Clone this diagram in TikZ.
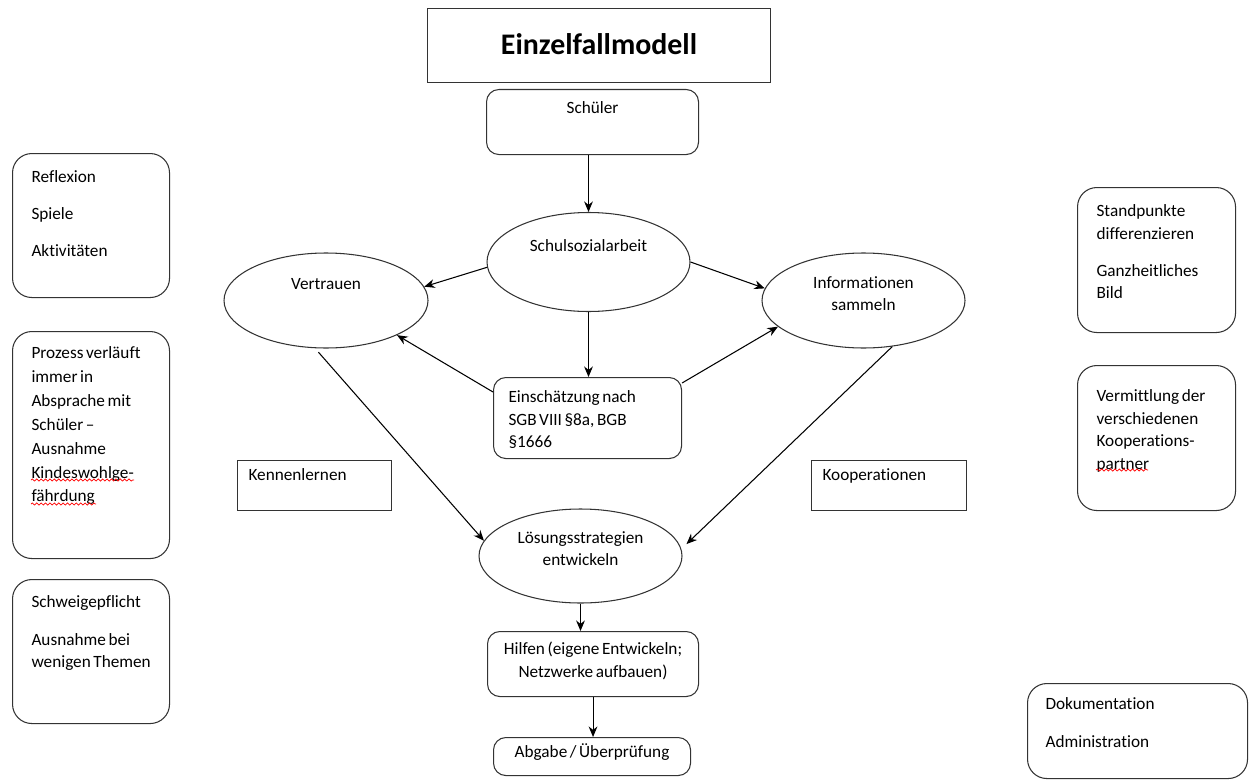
\documentclass[tikz,border=0pt]{standalone}
\usepackage{fontspec}
\setmainfont{Carlito}[Ligatures=NoCommon]
\usepackage{tikz}
\usetikzlibrary{arrows.meta,calc,shapes.geometric,decorations.pathmorphing}
\hyphenpenalty=10000

\begin{document}
\begin{tikzpicture}[>={Stealth[length=6pt,width=5pt]}, line width=0.6pt,
	every node/.style={execute at begin node={\spaceskip=0.15em\relax}},
	flowbox/.style={draw=black!80, rounded corners=7pt, anchor=north west, inner ysep=0pt, font=\fontsize{9.8}{12.8}\selectfont},
	sidebox/.style={flowbox, rounded corners=11pt, align=left, inner xsep=0.38cm},
	plainbox/.style={flowbox, rounded corners=0pt, align=left, inner xsep=0.22cm},
	flowell/.style={draw=black!80, ellipse, inner sep=0pt, align=center, text width=2.6cm, text height=0.1cm, font=\fontsize{9.8}{12.8}\selectfont},
	spellmark/.style={red, line width=0.4pt, decorate, decoration={snake, amplitude=0.6pt, segment length=2.5pt}}]

	\useasboundingbox (0,0) rectangle (24.98,-15.62);

	% middle column
	\node (title) at (8.54,-0.16) [flowbox, rounded corners=0pt, align=center, inner xsep=0pt, text width=6.86cm, text height=0.92cm, text depth=0.56cm, font=\fontsize{17}{20}\selectfont\bfseries] {Einzelfallmodell};
	\node (schueler) at (9.72,-1.78) [flowbox, align=center, inner xsep=0pt, text width=4.24cm, text height=0.48cm, text depth=0.82cm] {Schüler};
	\node (schul) at (11.77,-5.24) [flowell, minimum width=4.06cm, minimum height=1.98cm, text depth=0.54cm] {Schulsozialarbeit};
	\node (vertrauen) at (6.52,-6.01) [flowell, minimum width=4.08cm, minimum height=1.90cm, text depth=0.56cm] {Vertrauen};
	\node (info) at (17.27,-6.01) [flowell, minimum width=4.06cm, minimum height=1.90cm, text depth=0.60cm] {Informationen\\sammeln};
	\node (einsch) at (9.86,-7.54) [flowbox, align=left, inner xsep=0.30cm, text width=3.16cm, text height=0.50cm, text depth=1.12cm] {Einschätzung nach\\SGB VIII §8a, BGB\\§1666};
	\node (kennen) at (4.74,-9.20) [plainbox, text width=2.64cm, text height=0.40cm, text depth=0.60cm] {Kennenlernen};
	\node (koop) at (16.22,-9.20) [plainbox, text width=2.66cm, text height=0.40cm, text depth=0.60cm] {Kooperationen};
	\node (loesung) at (11.61,-11.12) [flowell, minimum width=4.06cm, minimum height=1.88cm, text depth=0.62cm] {Lösungsstrategien\\entwickeln};
	\node (hilfen) at (9.74,-12.62) [flowbox, align=center, inner xsep=0pt, text width=4.22cm, text height=0.46cm, text depth=0.84cm] {Hilfen (eigene Entwickeln;\\Netzwerke aufbauen)};
	\node (abgabe) at (9.86,-14.74) [flowbox, align=center, inner xsep=0pt, text width=3.94cm, text height=0.40cm, text depth=0.36cm] {Abgabe / Überprüfung};

	% side columns
	\node (refl) at (0.24,-3.06) [sidebox, text width=2.38cm, text height=0.58cm, text depth=2.30cm] {Reflexion\\[0.29cm]Spiele\\[0.29cm]Aktivitäten};
	\node (prozess) at (0.24,-6.62) [sidebox, text width=2.38cm, text height=0.54cm, text depth=4.00cm, font=\fontsize{9.8}{13.6}\selectfont] {Prozess~verläuft\\immer in\\Absprache~mit\\Schüler --\\Ausnahme\\Kindeswohlge-\\fährdung};
	\node (schweige) at (0.24,-11.58) [sidebox, text width=2.38cm, text height=0.56cm, text depth=2.32cm] {Schweigepflicht\\[0.3cm]Ausnahme~bei\\wenigen~Themen};
	\node (stand) at (21.54,-3.74) [sidebox, text width=2.40cm, text height=0.58cm, text depth=2.32cm] {Standpunkte\\differenzieren\\[0.29cm]Ganzheitliches\\Bild};
	\node (vermitt) at (21.54,-7.30) [sidebox, text width=2.40cm, text height=0.72cm, text depth=2.18cm] {Vermittlung~der\\verschiedenen\\Kooperations-\\partner};
	\node (doku) at (20.54,-13.66) [sidebox, inner xsep=0.36cm, text width=3.68cm, text height=0.52cm, text depth=1.38cm] {Dokumentation\\[0.3cm]Administration};

	\draw [spellmark] ($(prozess.north west)+(0.38,-2.98)$) -- ++(2.06,0);
	\draw [spellmark] ($(prozess.north west)+(0.38,-3.46)$) -- ++(1.30,0);
	\draw [spellmark] ($(vermitt.north west)+(0.38,-2.10)$) -- ++(1.04,0);

	\draw [->] (schul.north |- schueler.south) -- (schul.north);
	\draw [->] (schul.183) -- (vertrauen.8);
	\draw [->] (schul.east) -- (info.173);
	\draw [->] (schul.south) -- (schul.south |- einsch.north);
	\draw [->] ($(einsch.north west)+(0,-0.3)$) -- (vertrauen.-26);
	\draw [->] ($(einsch.north east)+(0,-0.12)$) -- (info.197);
	\draw [->, shorten <=3pt] (vertrauen.257) -- (loesung.171);
	\draw [->, shorten >=4pt] (info.302) -- (loesung.4);
	\draw [->] (loesung.south) -- (loesung.south |- hilfen.north);
	\draw [->] (hilfen.south) -- (hilfen.south |- abgabe.north);
\end{tikzpicture}
\end{document}
